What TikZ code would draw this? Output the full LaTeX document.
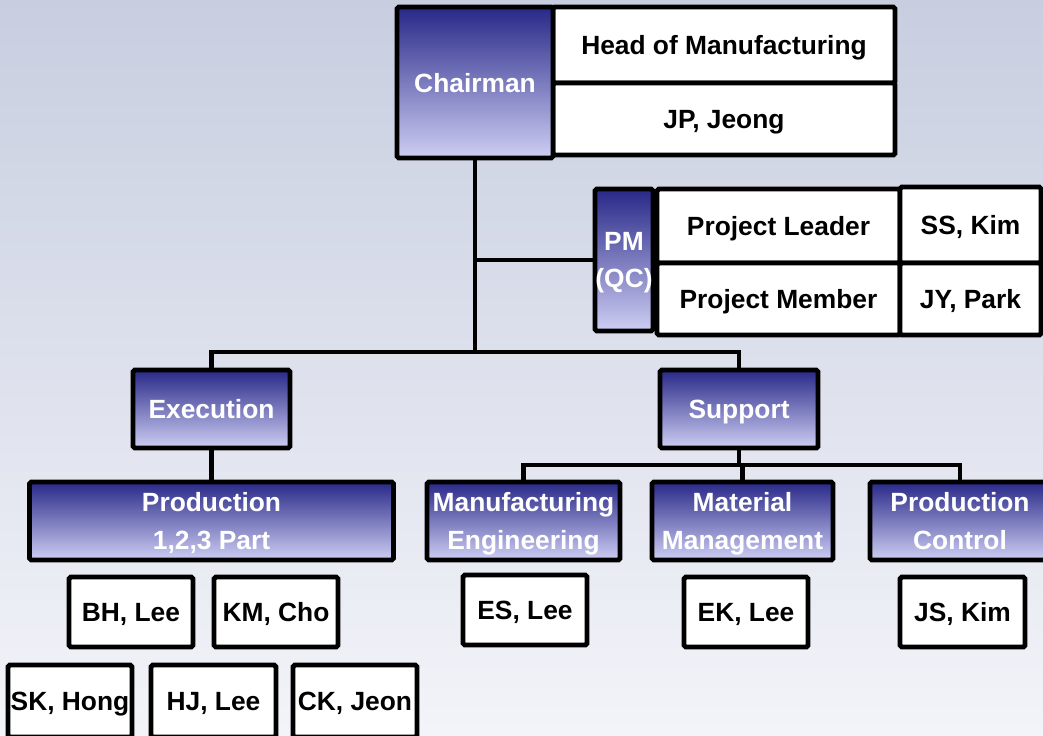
\documentclass[tikz,border=0pt]{standalone}
\usepackage{fontspec}
\setmainfont{Liberation Sans}
\usetikzlibrary{positioning}
\definecolor{bgtop}{RGB}{200,206,224}
\definecolor{bgbot}{RGB}{243,244,249}
\definecolor{navy}{RGB}{40,40,136}
\definecolor{lav}{RGB}{206,206,244}
\tikzset{
  box/.style={draw=black,line width=2.8pt,rounded corners=1pt,inner sep=0pt,align=center,
    text depth=0pt,
    font=\bfseries\fontsize{15}{21.5}\selectfont},
  bluebox/.style={box,top color=navy,bottom color=lav,text=white},
  whitebox/.style={box,fill=white,text=black},
  link/.style={line width=2.8pt}
}
\begin{document}
\begin{tikzpicture}[x=0.02cm,y=-0.02cm]
 \useasboundingbox (0,0) rectangle (1043,735);
 \shade[top color=bgtop,bottom color=bgbot] (0,0) rectangle (1043,735);
 % top
 \node[whitebox,minimum width=342*0.02cm,minimum height=76*0.02cm] (head) at (724,45) {Head of Manufacturing};
 \node[whitebox,minimum width=342*0.02cm,minimum height=72*0.02cm] (jp) at (724,119) {JP, Jeong};
 \node[bluebox,minimum width=156*0.02cm,minimum height=151*0.02cm] (chair) at (475,82.5) {Chairman};
 % project
 \node[whitebox,minimum width=243*0.02cm,minimum height=74*0.02cm] (pl) at (778.5,226) {Project Leader};
 \node[whitebox,minimum width=243*0.02cm,minimum height=72*0.02cm] (pmem) at (778.5,299) {Project Member};
 \node[whitebox,minimum width=141*0.02cm,minimum height=76*0.02cm] (ss) at (970.5,225) {SS, Kim};
 \node[whitebox,minimum width=141*0.02cm,minimum height=72*0.02cm] (jy) at (970.5,299) {JY, Park};
 \node[bluebox,minimum width=58*0.02cm,minimum height=142*0.02cm] (pm) at (624,260) {PM\\(QC)};
 % second level
 \node[bluebox,minimum width=157*0.02cm,minimum height=78*0.02cm] (exe) at (211.5,409) {Execution};
 \node[bluebox,minimum width=158*0.02cm,minimum height=78*0.02cm] (sup) at (739,409) {Support};
 % third level
 \node[bluebox,minimum width=364*0.02cm,minimum height=78*0.02cm] (prod) at (211.5,521) {Production\\1,2,3 Part};
 \node[bluebox,minimum width=193*0.02cm,minimum height=78*0.02cm] (mfg) at (523.5,521) {Manufacturing\\Engineering};
 \node[bluebox,minimum width=181*0.02cm,minimum height=78*0.02cm] (mat) at (742.5,521) {Material\\Management};
 \node[bluebox,minimum width=180*0.02cm,minimum height=78*0.02cm] (pc) at (960,521) {Production\\Control};
 % people
 \node[whitebox,minimum width=124*0.02cm,minimum height=70*0.02cm] (bh) at (131,612) {BH, Lee};
 \node[whitebox,minimum width=124*0.02cm,minimum height=70*0.02cm] (km) at (276,612) {KM, Cho};
 \node[whitebox,minimum width=124*0.02cm,minimum height=70*0.02cm] (es) at (525,610) {ES, Lee};
 \node[whitebox,minimum width=124*0.02cm,minimum height=70*0.02cm] (ek) at (746,612) {EK, Lee};
 \node[whitebox,minimum width=125*0.02cm,minimum height=70*0.02cm] (js) at (962.5,612) {JS, Kim};
 \node[whitebox,minimum width=124*0.02cm,minimum height=72*0.02cm] (sk) at (70,701) {SK, Hong};
 \node[whitebox,minimum width=125*0.02cm,minimum height=72*0.02cm] (hj) at (213.5,701) {HJ, Lee};
 \node[whitebox,minimum width=124*0.02cm,minimum height=72*0.02cm] (ck) at (355,701) {CK, Jeon};
 % connectors
 \coordinate (bar) at (475,352);
 \coordinate (pmj) at (475,260);
 \coordinate (sj) at (739,465);
 \draw[link] (chair.south) -- (bar);
 \draw[link] (pmj) -- (pm.west);
 \draw[link] (exe.north) |- (bar) -| (sup.north);
 \draw[link] (exe.south) -- (prod.north);
 \draw[link] (sup.south) -- (sj);
 \draw[link] (mfg.north) |- (sj) -| (pc.north);
 \draw[link] (sj) -| (mat.north);
\end{tikzpicture}
\end{document}
